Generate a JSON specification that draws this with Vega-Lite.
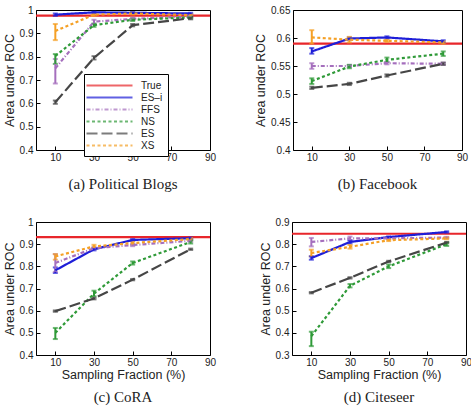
{
  "$schema": "https://vega.github.io/schema/vega-lite/v6.json",
  "padding": {"left": 2, "top": 4, "right": 0, "bottom": 3},
  "background": "white",
  "datasets": {
    "auc": [
      {"panel": "a", "method": "True", "y": 0.976},
      {"panel": "a", "method": "ES–i", "x": 10, "y": 0.980, "lo": 0.975, "hi": 0.985},
      {"panel": "a", "method": "ES–i", "x": 30, "y": 0.990, "lo": 0.987, "hi": 0.993},
      {"panel": "a", "method": "ES–i", "x": 50, "y": 0.988, "lo": 0.985, "hi": 0.991},
      {"panel": "a", "method": "ES–i", "x": 80, "y": 0.985, "lo": 0.982, "hi": 0.988},
      {"panel": "a", "method": "FFS", "x": 10, "y": 0.750, "lo": 0.685, "hi": 0.790},
      {"panel": "a", "method": "FFS", "x": 30, "y": 0.950, "lo": 0.940, "hi": 0.958},
      {"panel": "a", "method": "FFS", "x": 50, "y": 0.962, "lo": 0.957, "hi": 0.967},
      {"panel": "a", "method": "FFS", "x": 80, "y": 0.972, "lo": 0.968, "hi": 0.976},
      {"panel": "a", "method": "NS", "x": 10, "y": 0.803, "lo": 0.769, "hi": 0.811},
      {"panel": "a", "method": "NS", "x": 30, "y": 0.935, "lo": 0.928, "hi": 0.942},
      {"panel": "a", "method": "NS", "x": 50, "y": 0.958, "lo": 0.953, "hi": 0.963},
      {"panel": "a", "method": "NS", "x": 80, "y": 0.968, "lo": 0.964, "hi": 0.972},
      {"panel": "a", "method": "ES", "x": 10, "y": 0.605, "lo": 0.598, "hi": 0.612},
      {"panel": "a", "method": "ES", "x": 30, "y": 0.795, "lo": 0.788, "hi": 0.802},
      {"panel": "a", "method": "ES", "x": 50, "y": 0.935, "lo": 0.930, "hi": 0.940},
      {"panel": "a", "method": "ES", "x": 80, "y": 0.965, "lo": 0.960, "hi": 0.970},
      {"panel": "a", "method": "XS", "x": 10, "y": 0.910, "lo": 0.871, "hi": 0.940},
      {"panel": "a", "method": "XS", "x": 30, "y": 0.980, "lo": 0.975, "hi": 0.985},
      {"panel": "a", "method": "XS", "x": 50, "y": 0.985, "lo": 0.981, "hi": 0.989},
      {"panel": "a", "method": "XS", "x": 80, "y": 0.978, "lo": 0.975, "hi": 0.981},

      {"panel": "b", "method": "True", "y": 0.590},
      {"panel": "b", "method": "ES–i", "x": 10, "y": 0.576, "lo": 0.572, "hi": 0.582},
      {"panel": "b", "method": "ES–i", "x": 30, "y": 0.599, "lo": 0.597, "hi": 0.601},
      {"panel": "b", "method": "ES–i", "x": 50, "y": 0.601, "lo": 0.599, "hi": 0.603},
      {"panel": "b", "method": "ES–i", "x": 80, "y": 0.594, "lo": 0.592, "hi": 0.596},
      {"panel": "b", "method": "FFS", "x": 10, "y": 0.550, "lo": 0.545, "hi": 0.555},
      {"panel": "b", "method": "FFS", "x": 30, "y": 0.550, "lo": 0.548, "hi": 0.552},
      {"panel": "b", "method": "FFS", "x": 50, "y": 0.555, "lo": 0.553, "hi": 0.557},
      {"panel": "b", "method": "FFS", "x": 80, "y": 0.554, "lo": 0.552, "hi": 0.556},
      {"panel": "b", "method": "NS", "x": 10, "y": 0.523, "lo": 0.518, "hi": 0.528},
      {"panel": "b", "method": "NS", "x": 30, "y": 0.549, "lo": 0.546, "hi": 0.552},
      {"panel": "b", "method": "NS", "x": 50, "y": 0.561, "lo": 0.557, "hi": 0.565},
      {"panel": "b", "method": "NS", "x": 80, "y": 0.572, "lo": 0.568, "hi": 0.576},
      {"panel": "b", "method": "ES", "x": 10, "y": 0.511, "lo": 0.509, "hi": 0.513},
      {"panel": "b", "method": "ES", "x": 30, "y": 0.518, "lo": 0.516, "hi": 0.520},
      {"panel": "b", "method": "ES", "x": 50, "y": 0.533, "lo": 0.531, "hi": 0.535},
      {"panel": "b", "method": "ES", "x": 80, "y": 0.554, "lo": 0.552, "hi": 0.556},
      {"panel": "b", "method": "XS", "x": 10, "y": 0.601, "lo": 0.590, "hi": 0.614},
      {"panel": "b", "method": "XS", "x": 30, "y": 0.597, "lo": 0.592, "hi": 0.602},
      {"panel": "b", "method": "XS", "x": 50, "y": 0.595, "lo": 0.593, "hi": 0.597},
      {"panel": "b", "method": "XS", "x": 80, "y": 0.592, "lo": 0.590, "hi": 0.594},

      {"panel": "c", "method": "True", "y": 0.932},
      {"panel": "c", "method": "ES–i", "x": 10, "y": 0.782, "lo": 0.770, "hi": 0.795},
      {"panel": "c", "method": "ES–i", "x": 30, "y": 0.877, "lo": 0.872, "hi": 0.882},
      {"panel": "c", "method": "ES–i", "x": 50, "y": 0.919, "lo": 0.915, "hi": 0.923},
      {"panel": "c", "method": "ES–i", "x": 80, "y": 0.927, "lo": 0.924, "hi": 0.930},
      {"panel": "c", "method": "FFS", "x": 10, "y": 0.815, "lo": 0.775, "hi": 0.855},
      {"panel": "c", "method": "FFS", "x": 30, "y": 0.882, "lo": 0.877, "hi": 0.887},
      {"panel": "c", "method": "FFS", "x": 50, "y": 0.896, "lo": 0.891, "hi": 0.901},
      {"panel": "c", "method": "FFS", "x": 80, "y": 0.915, "lo": 0.911, "hi": 0.919},
      {"panel": "c", "method": "NS", "x": 10, "y": 0.500, "lo": 0.472, "hi": 0.522},
      {"panel": "c", "method": "NS", "x": 30, "y": 0.677, "lo": 0.665, "hi": 0.690},
      {"panel": "c", "method": "NS", "x": 50, "y": 0.815, "lo": 0.808, "hi": 0.822},
      {"panel": "c", "method": "NS", "x": 80, "y": 0.910, "lo": 0.903, "hi": 0.917},
      {"panel": "c", "method": "ES", "x": 10, "y": 0.598, "lo": 0.595, "hi": 0.601},
      {"panel": "c", "method": "ES", "x": 30, "y": 0.655, "lo": 0.651, "hi": 0.659},
      {"panel": "c", "method": "ES", "x": 50, "y": 0.740, "lo": 0.737, "hi": 0.743},
      {"panel": "c", "method": "ES", "x": 80, "y": 0.877, "lo": 0.874, "hi": 0.880},
      {"panel": "c", "method": "XS", "x": 10, "y": 0.845, "lo": 0.830, "hi": 0.855},
      {"panel": "c", "method": "XS", "x": 30, "y": 0.890, "lo": 0.882, "hi": 0.897},
      {"panel": "c", "method": "XS", "x": 50, "y": 0.905, "lo": 0.899, "hi": 0.911},
      {"panel": "c", "method": "XS", "x": 80, "y": 0.923, "lo": 0.918, "hi": 0.928},

      {"panel": "d", "method": "True", "y": 0.847},
      {"panel": "d", "method": "ES–i", "x": 10, "y": 0.737, "lo": 0.730, "hi": 0.745},
      {"panel": "d", "method": "ES–i", "x": 30, "y": 0.810, "lo": 0.803, "hi": 0.817},
      {"panel": "d", "method": "ES–i", "x": 50, "y": 0.832, "lo": 0.829, "hi": 0.835},
      {"panel": "d", "method": "ES–i", "x": 80, "y": 0.855, "lo": 0.852, "hi": 0.858},
      {"panel": "d", "method": "FFS", "x": 10, "y": 0.810, "lo": 0.790, "hi": 0.828},
      {"panel": "d", "method": "FFS", "x": 30, "y": 0.826, "lo": 0.818, "hi": 0.834},
      {"panel": "d", "method": "FFS", "x": 50, "y": 0.826, "lo": 0.823, "hi": 0.829},
      {"panel": "d", "method": "FFS", "x": 80, "y": 0.830, "lo": 0.827, "hi": 0.833},
      {"panel": "d", "method": "NS", "x": 10, "y": 0.385, "lo": 0.340, "hi": 0.405},
      {"panel": "d", "method": "NS", "x": 30, "y": 0.612, "lo": 0.605, "hi": 0.620},
      {"panel": "d", "method": "NS", "x": 50, "y": 0.700, "lo": 0.692, "hi": 0.708},
      {"panel": "d", "method": "NS", "x": 80, "y": 0.800, "lo": 0.792, "hi": 0.808},
      {"panel": "d", "method": "ES", "x": 10, "y": 0.581, "lo": 0.578, "hi": 0.584},
      {"panel": "d", "method": "ES", "x": 30, "y": 0.648, "lo": 0.645, "hi": 0.651},
      {"panel": "d", "method": "ES", "x": 50, "y": 0.722, "lo": 0.719, "hi": 0.725},
      {"panel": "d", "method": "ES", "x": 80, "y": 0.807, "lo": 0.804, "hi": 0.810},
      {"panel": "d", "method": "XS", "x": 10, "y": 0.760, "lo": 0.745, "hi": 0.775},
      {"panel": "d", "method": "XS", "x": 30, "y": 0.788, "lo": 0.780, "hi": 0.796},
      {"panel": "d", "method": "XS", "x": 50, "y": 0.818, "lo": 0.814, "hi": 0.822},
      {"panel": "d", "method": "XS", "x": 80, "y": 0.826, "lo": 0.822, "hi": 0.830}
    ]
  },
  "data": {"name": "auc"},
  "resolve": {
    "scale": {"color": "independent", "strokeDash": "independent", "strokeWidth": "independent"},
    "legend": {"color": "independent", "strokeDash": "independent", "strokeWidth": "independent"}
  },
  "spacing": 23,
  "vconcat": [
    {
      "spacing": 37,
      "hconcat": [
        {
          "width": 174, "height": 140,
          "title": {"text": "(a) Political Blogs", "orient": "bottom", "offset": 15, "font": "Liberation Serif", "fontSize": 15, "fontWeight": "normal", "color": "#222"},
          "transform": [{"filter": "datum.panel === 'a'"}],
          "layer": [
            {
              "transform": [{"filter": "datum.method === 'True'"}],
              "mark": {"type": "rule"},
              "encoding": {
                "y": {"field": "y", "type": "quantitative", "title": "Area under ROC",
                      "scale": {"domain": [0.4, 1], "nice": false, "zero": false},
                      "axis": {"values": [0.4, 0.5, 0.6, 0.7, 0.8, 0.9, 1], "format": "~g"}},
                "color": {"field": "method", "type": "nominal", "scale": {"domain": ["True", "ES–i", "FFS", "NS", "ES", "XS"], "range": ["#e8262b", "#1e1ed8", "#a56fbd", "#2f9a38", "#464646", "#f5a025"]},
                          "legend": {"orient": "none", "legendX": 48, "legendY": 64, "title": null}},
                "strokeDash": {"field": "method", "type": "nominal", "scale": {"domain": ["True", "ES–i", "FFS", "NS", "ES", "XS"], "range": [[1, 0], [1, 0], [4, 2, 1, 2], [3, 2.5], [11, 4], [3, 2.5]]},
                          "legend": {"orient": "none", "legendX": 48, "legendY": 64, "title": null}},
                "strokeWidth": {"field": "method", "type": "nominal", "scale": {"domain": ["True", "ES–i", "FFS", "NS", "ES", "XS"], "range": [2.2, 2.2, 1.5, 2.2, 2.2, 1.8]},
                          "legend": {"orient": "none", "legendX": 48, "legendY": 64, "title": null}}
              }
            },
            {
              "transform": [{"filter": "datum.method !== 'True'"}],
              "mark": {"type": "errorbar", "ticks": {"size": 5}, "thickness": 2},
              "encoding": {
                "x": {"field": "x", "type": "quantitative", "title": null,
                      "scale": {"domain": [0, 90], "nice": false, "zero": false},
                      "axis": {"values": [10, 30, 50, 70, 90]}},
                "y": {"field": "lo", "type": "quantitative", "title": "Area under ROC",
                      "axis": {"values": [0.4, 0.5, 0.6, 0.7, 0.8, 0.9, 1], "format": "~g"}},
                "y2": {"field": "hi"},
                "color": {"field": "method", "type": "nominal",
                          "legend": {"orient": "none", "legendX": 48, "legendY": 64, "title": null}}
              }
            },
            {
              "transform": [{"filter": "datum.method !== 'True'"}],
              "mark": {"type": "line"},
              "encoding": {
                "x": {"field": "x", "type": "quantitative", "title": null,
                      "axis": {"values": [10, 30, 50, 70, 90]}},
                "y": {"field": "y", "type": "quantitative", "title": "Area under ROC",
                      "axis": {"values": [0.4, 0.5, 0.6, 0.7, 0.8, 0.9, 1], "format": "~g"}},
                "color": {"field": "method", "type": "nominal",
                          "legend": {"orient": "none", "legendX": 48, "legendY": 64, "title": null}},
                "strokeDash": {"field": "method", "type": "nominal",
                          "legend": {"orient": "none", "legendX": 48, "legendY": 64, "title": null}},
                "strokeWidth": {"field": "method", "type": "nominal",
                          "legend": {"orient": "none", "legendX": 48, "legendY": 64, "title": null}}
              }
            }
          ]
        },
        {
          "width": 169, "height": 140,
          "title": {"text": "(b) Facebook", "orient": "bottom", "offset": 15, "font": "Liberation Serif", "fontSize": 15, "fontWeight": "normal", "color": "#222"},
          "transform": [{"filter": "datum.panel === 'b'"}],
          "layer": [
            {
              "transform": [{"filter": "datum.method === 'True'"}],
              "mark": {"type": "rule"},
              "encoding": {
                "y": {"field": "y", "type": "quantitative", "title": "Area under ROC",
                      "scale": {"domain": [0.4, 0.65], "nice": false, "zero": false},
                      "axis": {"values": [0.4, 0.45, 0.5, 0.55, 0.6, 0.65], "format": "~g"}},
                "color": {"field": "method", "type": "nominal", "scale": {"domain": ["True", "ES–i", "FFS", "NS", "ES", "XS"], "range": ["#e8262b", "#1e1ed8", "#a56fbd", "#2f9a38", "#464646", "#f5a025"]}, "legend": null},
                "strokeDash": {"field": "method", "type": "nominal", "scale": {"domain": ["True", "ES–i", "FFS", "NS", "ES", "XS"], "range": [[1, 0], [1, 0], [4, 2, 1, 2], [3, 2.5], [11, 4], [3, 2.5]]}, "legend": null},
                "strokeWidth": {"field": "method", "type": "nominal", "scale": {"domain": ["True", "ES–i", "FFS", "NS", "ES", "XS"], "range": [2.2, 2.2, 1.5, 2.2, 2.2, 1.8]}, "legend": null}
              }
            },
            {
              "transform": [{"filter": "datum.method !== 'True'"}],
              "mark": {"type": "errorbar", "ticks": {"size": 5}, "thickness": 2},
              "encoding": {
                "x": {"field": "x", "type": "quantitative", "title": null,
                      "scale": {"domain": [0, 90], "nice": false, "zero": false},
                      "axis": {"values": [10, 30, 50, 70, 90]}},
                "y": {"field": "lo", "type": "quantitative", "title": "Area under ROC",
                      "axis": {"values": [0.4, 0.45, 0.5, 0.55, 0.6, 0.65], "format": "~g"}},
                "y2": {"field": "hi"},
                "color": {"field": "method", "type": "nominal", "legend": null}
              }
            },
            {
              "transform": [{"filter": "datum.method !== 'True'"}],
              "mark": {"type": "line"},
              "encoding": {
                "x": {"field": "x", "type": "quantitative", "title": null,
                      "axis": {"values": [10, 30, 50, 70, 90]}},
                "y": {"field": "y", "type": "quantitative", "title": "Area under ROC",
                      "axis": {"values": [0.4, 0.45, 0.5, 0.55, 0.6, 0.65], "format": "~g"}},
                "color": {"field": "method", "type": "nominal", "legend": null},
                "strokeDash": {"field": "method", "type": "nominal", "legend": null},
                "strokeWidth": {"field": "method", "type": "nominal", "legend": null}
              }
            }
          ]
        }
      ]
    },
    {
      "spacing": 41,
      "hconcat": [
        {
          "width": 174, "height": 133,
          "title": {"text": "(c) CoRA", "orient": "bottom", "offset": 9, "font": "Liberation Serif", "fontSize": 15, "fontWeight": "normal", "color": "#222"},
          "transform": [{"filter": "datum.panel === 'c'"}],
          "layer": [
            {
              "transform": [{"filter": "datum.method === 'True'"}],
              "mark": {"type": "rule"},
              "encoding": {
                "y": {"field": "y", "type": "quantitative", "title": "Area under ROC",
                      "scale": {"domain": [0.4, 1], "nice": false, "zero": false},
                      "axis": {"values": [0.4, 0.5, 0.6, 0.7, 0.8, 0.9, 1], "format": "~g"}},
                "color": {"field": "method", "type": "nominal", "scale": {"domain": ["True", "ES–i", "FFS", "NS", "ES", "XS"], "range": ["#e8262b", "#1e1ed8", "#a56fbd", "#2f9a38", "#464646", "#f5a025"]}, "legend": null},
                "strokeDash": {"field": "method", "type": "nominal", "scale": {"domain": ["True", "ES–i", "FFS", "NS", "ES", "XS"], "range": [[1, 0], [1, 0], [4, 2, 1, 2], [3, 2.5], [11, 4], [3, 2.5]]}, "legend": null},
                "strokeWidth": {"field": "method", "type": "nominal", "scale": {"domain": ["True", "ES–i", "FFS", "NS", "ES", "XS"], "range": [2.2, 2.2, 1.5, 2.2, 2.2, 1.8]}, "legend": null}
              }
            },
            {
              "transform": [{"filter": "datum.method !== 'True'"}],
              "mark": {"type": "errorbar", "ticks": {"size": 5}, "thickness": 2},
              "encoding": {
                "x": {"field": "x", "type": "quantitative", "title": "Sampling Fraction (%)",
                      "scale": {"domain": [0, 90], "nice": false, "zero": false},
                      "axis": {"values": [10, 30, 50, 70, 90]}},
                "y": {"field": "lo", "type": "quantitative", "title": "Area under ROC",
                      "axis": {"values": [0.4, 0.5, 0.6, 0.7, 0.8, 0.9, 1], "format": "~g"}},
                "y2": {"field": "hi"},
                "color": {"field": "method", "type": "nominal", "legend": null}
              }
            },
            {
              "transform": [{"filter": "datum.method !== 'True'"}],
              "mark": {"type": "line"},
              "encoding": {
                "x": {"field": "x", "type": "quantitative", "title": "Sampling Fraction (%)",
                      "axis": {"values": [10, 30, 50, 70, 90]}},
                "y": {"field": "y", "type": "quantitative", "title": "Area under ROC",
                      "axis": {"values": [0.4, 0.5, 0.6, 0.7, 0.8, 0.9, 1], "format": "~g"}},
                "color": {"field": "method", "type": "nominal", "legend": null},
                "strokeDash": {"field": "method", "type": "nominal", "legend": null},
                "strokeWidth": {"field": "method", "type": "nominal", "legend": null}
              }
            }
          ]
        },
        {
          "width": 174, "height": 133,
          "title": {"text": "(d) Citeseer", "orient": "bottom", "offset": 9, "font": "Liberation Serif", "fontSize": 15, "fontWeight": "normal", "color": "#222"},
          "transform": [{"filter": "datum.panel === 'd'"}],
          "layer": [
            {
              "transform": [{"filter": "datum.method === 'True'"}],
              "mark": {"type": "rule"},
              "encoding": {
                "y": {"field": "y", "type": "quantitative", "title": "Area under ROC",
                      "scale": {"domain": [0.3, 0.9], "nice": false, "zero": false},
                      "axis": {"values": [0.3, 0.4, 0.5, 0.6, 0.7, 0.8, 0.9], "format": "~g"}},
                "color": {"field": "method", "type": "nominal", "scale": {"domain": ["True", "ES–i", "FFS", "NS", "ES", "XS"], "range": ["#e8262b", "#1e1ed8", "#a56fbd", "#2f9a38", "#464646", "#f5a025"]}, "legend": null},
                "strokeDash": {"field": "method", "type": "nominal", "scale": {"domain": ["True", "ES–i", "FFS", "NS", "ES", "XS"], "range": [[1, 0], [1, 0], [4, 2, 1, 2], [3, 2.5], [11, 4], [3, 2.5]]}, "legend": null},
                "strokeWidth": {"field": "method", "type": "nominal", "scale": {"domain": ["True", "ES–i", "FFS", "NS", "ES", "XS"], "range": [2.2, 2.2, 1.5, 2.2, 2.2, 1.8]}, "legend": null}
              }
            },
            {
              "transform": [{"filter": "datum.method !== 'True'"}],
              "mark": {"type": "errorbar", "ticks": {"size": 5}, "thickness": 2},
              "encoding": {
                "x": {"field": "x", "type": "quantitative", "title": "Sampling Fraction (%)",
                      "scale": {"domain": [0, 90], "nice": false, "zero": false},
                      "axis": {"values": [10, 30, 50, 70, 90]}},
                "y": {"field": "lo", "type": "quantitative", "title": "Area under ROC",
                      "axis": {"values": [0.3, 0.4, 0.5, 0.6, 0.7, 0.8, 0.9], "format": "~g"}},
                "y2": {"field": "hi"},
                "color": {"field": "method", "type": "nominal", "legend": null}
              }
            },
            {
              "transform": [{"filter": "datum.method !== 'True'"}],
              "mark": {"type": "line"},
              "encoding": {
                "x": {"field": "x", "type": "quantitative", "title": "Sampling Fraction (%)",
                      "axis": {"values": [10, 30, 50, 70, 90]}},
                "y": {"field": "y", "type": "quantitative", "title": "Area under ROC",
                      "axis": {"values": [0.3, 0.4, 0.5, 0.6, 0.7, 0.8, 0.9], "format": "~g"}},
                "color": {"field": "method", "type": "nominal", "legend": null},
                "strokeDash": {"field": "method", "type": "nominal", "legend": null},
                "strokeWidth": {"field": "method", "type": "nominal", "legend": null}
              }
            }
          ]
        }
      ]
    }
  ],
  "config": {
    "view": {"stroke": "black", "strokeWidth": 1},
    "axis": {
      "grid": false,
      "domain": false,
      "tickColor": "black",
      "tickSize": -4,
      "labelPadding": 7,
      "labelOverlap": false,
      "labelColor": "#222",
      "labelFont": "Liberation Sans",
      "labelFontSize": 10,
      "titleFont": "Liberation Sans",
      "titleFontSize": 12.5,
      "titleFontWeight": "normal",
      "titleColor": "#222",
      "titlePadding": 3
    },
    "axisX": {"labelFlush": false, "labelPadding": 6, "titlePadding": 1},
    "legend": {
      "symbolType": "M-4.6,0H4.6",
      "symbolSize": 100,
      "symbolOffset": 14,
      "labelOffset": 25,
      "labelExpr": "datum.label + '            '",
      "labelFont": "Liberation Sans",
      "labelFontSize": 10,
      "labelColor": "#222",
      "rowPadding": 0,
      "padding": 5,
      "strokeColor": "black",
      "fillColor": "white"
    }
  }
}
